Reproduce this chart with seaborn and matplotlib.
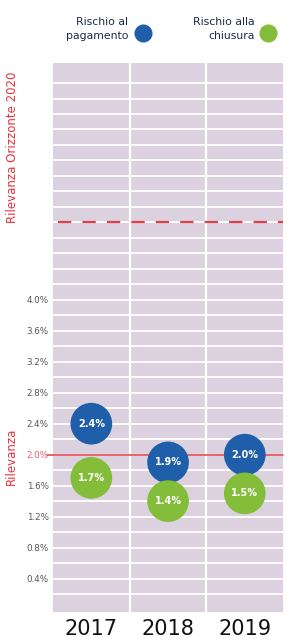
import numpy as np
import pandas as pd
import seaborn as sns
import matplotlib.pyplot as plt
from matplotlib.lines import Line2D

# dati
anni = ["2017", "2018", "2019"]
rischio_pagamento = [2.4, 1.9, 2.0]
rischio_chiusura = [1.7, 1.4, 1.5]
serie = ["Rischio al\npagamento", "Rischio alla\nchiusura"]
tick_valori = [0.4, 0.8, 1.2, 1.6, 2.0, 2.4, 2.8, 3.2, 3.6, 4.0]
rilevanza = 2.0
rilevanza_2020 = 5.0

df = pd.DataFrame({
    "anno": anni * 2,
    "pos": list(range(len(anni))) * 2,
    "valore": rischio_pagamento + rischio_chiusura,
    "serie": [serie[0]] * 3 + [serie[1]] * 3,
})

sns.set_theme(style="white")
plt.rcParams['font.family'] = ['DejaVu Sans']

blu = "#1f5ea8"
verde = "#84bd3a"
sfondo = "#dcd1df"

fig = plt.figure(figsize=(2.91, 6.42), dpi=100)
ax = fig.add_axes([0.182, 0.047, 0.791, 0.855])
ax.set_facecolor(sfondo)

ax.set_xlim(-0.5, 2.5)
ax.set_ylim(-0.03, 7.06)

# griglia orizzontale bianca
for v in np.arange(0.2, 7.0, 0.2):
    ax.axhline(v, color="white", lw=1.3, zorder=1)
for x in [0.5, 1.5]:
    ax.axvline(x, color="white", lw=1.6, zorder=1)

ax.axhline(rilevanza_2020, xmin=0.02, color="#e0404a", lw=1.6, ls=(0, (6, 5)), zorder=2)
ax.plot([-0.58, 2.5], [rilevanza, rilevanza], color="#e03a45", lw=1.1, zorder=2, clip_on=False)

sns.scatterplot(data=df, x="pos", y="valore", hue="serie",
                palette=[blu, verde], s=900, edgecolor="none",
                legend=False, ax=ax, zorder=3)

for _, r in df.iterrows():
    ax.text(r["pos"], r["valore"], f"{r['valore']:.1f}%", color="white",
            fontsize=7, fontweight="bold", ha="center", va="center", zorder=4)

ax.set_xticks(range(len(anni)))
ax.set_xticklabels(anni, fontsize=15, color="#111111")
ax.set_yticks(tick_valori)
ax.set_yticklabels([f"{v:.1f}%" for v in tick_valori], fontsize=6.3, color="#555555")
for lab, v in zip(ax.get_yticklabels(), tick_valori):
    if v == rilevanza:
        lab.set_color("#f06070")
ax.tick_params(axis="x", length=0, pad=5)
ax.tick_params(axis="y", length=2, color="#aaaaaa", pad=1)
ax.set_xlabel("")
ax.set_ylabel("")
for s in ax.spines.values():
    s.set_visible(False)

# etichette laterali
fig.text(0.042, 0.77, "Rilevanza Orizzonte 2020", rotation=90, color="#e8303c",
         fontsize=8.5, ha="center", va="center")
fig.text(0.038, 0.29, "Rilevanza", rotation=90, color="#e8303c",
         fontsize=8.5, ha="center", va="center")

# legenda
fig.text(0.44, 0.955, serie[0], ha="right", va="center", fontsize=7.8,
         color="#1c2a4a", linespacing=1.5)
fig.text(0.875, 0.955, serie[1], ha="right", va="center", fontsize=7.8,
         color="#1c2a4a", linespacing=1.5)
fig.add_artist(Line2D([0.49], [0.949], marker="o", markersize=13, color=blu,
                      markeredgewidth=0, transform=fig.transFigure))
fig.add_artist(Line2D([0.92], [0.949], marker="o", markersize=13, color=verde,
                      markeredgewidth=0, transform=fig.transFigure))

fig.savefig("out.png", dpi=100, facecolor="white")
